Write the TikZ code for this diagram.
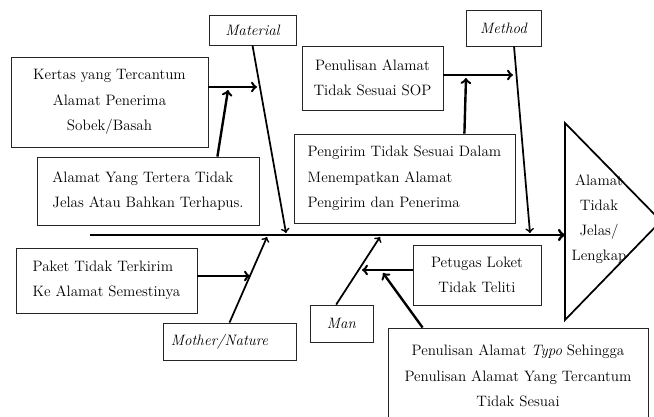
\documentclass[tikz,border=0pt]{standalone}
\usetikzlibrary{positioning, arrows}

\tikzset{
    cause/.style={draw=black!85, line width=0.6pt, rectangle, align=center, inner sep=2pt, font=\fontsize{11.3pt}{19pt}\selectfont},
    spine/.style={->, line width=1.3pt},
    sub/.style={->, line width=1.8pt},
}

\begin{document}
\begin{tikzpicture}[x=0.75pt, y=-0.75pt]
    \useasboundingbox (0, 0) rectangle (654, 417);

    % categories
    \node (mat) [cause, minimum width=65.25pt, minimum height=22.5pt] at (252.5, 30) {\itshape Material};
    \node (meth) [cause, minimum width=56.25pt, minimum height=27pt] at (503.5, 28) {\itshape Method};
    \node (mother) [cause, minimum width=99.75pt, minimum height=27.75pt, text width=88pt, align=left] at (229.5, 341.5) {\itshape Mother/Nature};
    \node (man) [cause, minimum width=47.25pt, minimum height=27.75pt] at (341.5, 323.5) {\itshape Man};

    % causes
    \node (kertas) [cause, minimum width=147.75pt, minimum height=67.5pt] at (109.5, 102) {Kertas yang Tercantum\\Alamat Penerima\\Sobek/Basah};
    \node (tertera) [cause, minimum width=166.5pt, minimum height=51pt, align=left] at (148, 191) {Alamat Yang Tertera Tidak\\Jelas Atau Bahkan Terhapus.};
    \node (sop) [cause, minimum width=105.75pt, minimum height=48pt] at (372.5, 78) {Penulisan Alamat\\Tidak Sesuai SOP};
    \node (kirim) [cause, minimum width=165.75pt, minimum height=66.75pt, align=left] at (404.5, 178.5) {Pengirim Tidak Sesuai Dalam\\Menempatkan Alamat\\Pengirim dan Penerima};
    \node (paket) [cause, minimum width=135.75pt, minimum height=48.75pt, align=left] at (106.5, 280.5) {Paket Tidak Terkirim\\Ke Alamat Semestinya};
    \node (loket) [cause, minimum width=96pt, minimum height=45pt] at (477, 275) {Petugas Loket\\Tidak Teliti};
    \node (typo) [cause, minimum width=195pt, minimum height=72pt] at (518, 376) {Penulisan Alamat \textit{Typo} Sehingga\\Penulisan Alamat Yang Tercantum\\Tidak Sesuai};

    % effect
    \coordinate (effA) at (565, 123);
    \coordinate (effB) at (565, 320);
    \coordinate (apex) at (661, 221);
    \draw [line width=1.3pt, line join=miter] (effA) -- (apex) -- (effB) -- cycle;
    \node (eff) [align=center, font=\fontsize{11.3pt}{18.75pt}\selectfont] at (599, 219) {Alamat\\Tidak\\Jelas/\\Lengkap};

    % points on the bones
    \coordinate (tail) at (90, 235);
    \coordinate (head) at (565, 235);
    \coordinate (matEnd) at (286, 233);
    \coordinate (methEnd) at (530, 233);
    \coordinate (motherEnd) at (267, 237);
    \coordinate (manEnd) at (380, 237);
    \coordinate (matA) at (257, 87);
    \coordinate (matB) at (228, 90);
    \coordinate (methA) at (513, 75);
    \coordinate (methB) at (466, 78);
    \coordinate (motherA) at (250, 276);
    \coordinate (manA) at (362, 270);
    \coordinate (manB) at (383, 273);

    \draw [->, line width=2.2pt] (tail) -- (head);
    \draw [spine] (mat.south) -- (matEnd);
    \draw [spine] ([xshift=7.9pt]meth.south) -- (methEnd);
    \draw [spine] (mother.north) -- (motherEnd);
    \draw [spine] ([xshift=-4pt]man.north) -- (manEnd);

    \draw [sub] (kertas.east |- matA) -- (matA);
    \draw [sub] ([xshift=-31.5pt]tertera.north east) -- (matB);
    \draw [sub] (sop.east |- methA) -- (methA);
    \draw [sub] ([xshift=-38.25pt]kirim.north east) -- (methB);
    \draw [sub] (paket.east |- motherA) -- (motherA);
    \draw [sub] (loket.west |- manA) -- (manA);
    \draw [sub] ([xshift=26.25pt]typo.north west) -- (manB);
\end{tikzpicture}
\end{document}
